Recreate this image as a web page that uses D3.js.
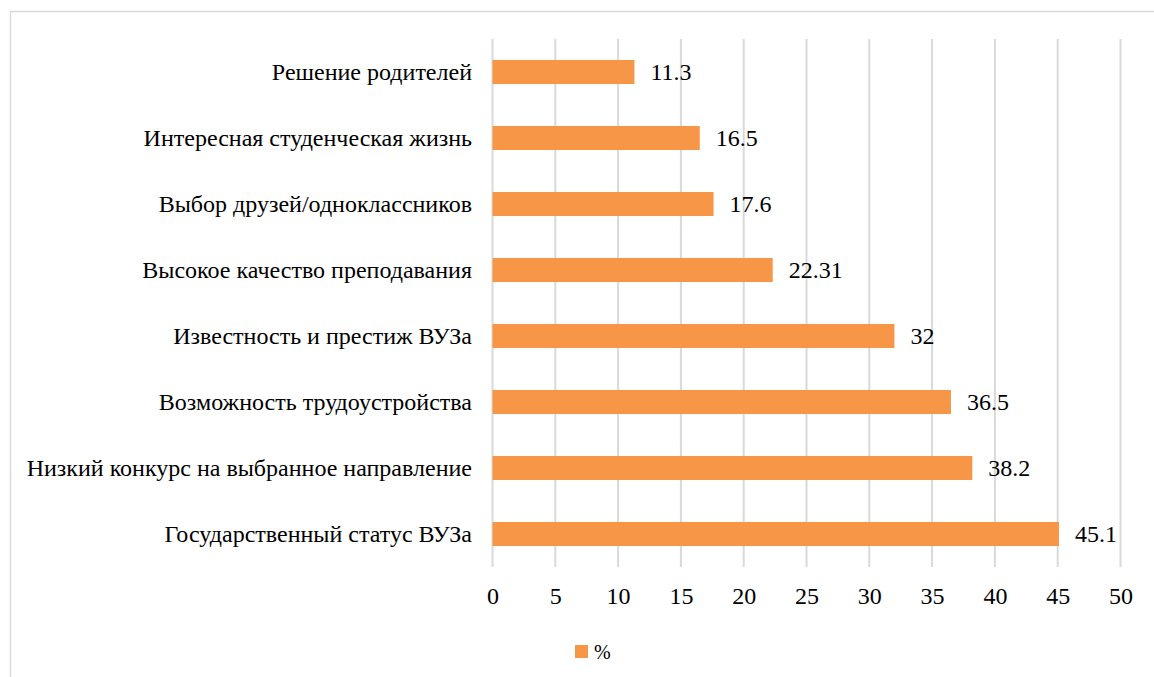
<!DOCTYPE html>
<html>
<head>
<meta charset="utf-8">
<script src="https://cdn.jsdelivr.net/npm/d3@7"></script>
<style>
  body { margin: 0; background: #fff; }
</style>
</head>
<body>
<svg width="1154" height="677"></svg>
<script>
const categories = [
  "Решение родителей",
  "Интересная студенческая жизнь",
  "Выбор друзей/одноклассников",
  "Высокое качество преподавания",
  "Известность и престиж ВУЗа",
  "Возможность трудоустройства",
  "Низкий конкурс на выбранное направление",
  "Государственный статус ВУЗа"
];
const values = [11.3, 16.5, 17.6, 22.31, 32, 36.5, 38.2, 45.1];
const valueLabels = ["11.3", "16.5", "17.6", "22.31", "32", "36.5", "38.2", "45.1"];
const xTicks = [0, 5, 10, 15, 20, 25, 30, 35, 40, 45, 50];
const seriesName = "%";

const svg = d3.select("svg");
const color = "#F79646";
const gridColor = "#d9d9d9";
const font = "Liberation Serif";
const fontSize = 24;

// outer frame
svg.append("rect")
  .attr("x", 10.5).attr("y", 11.5)
  .attr("width", 1160).attr("height", 700)
  .attr("fill", "none")
  .attr("stroke", gridColor)
  .attr("stroke-width", 1.5);

const x = d3.scaleLinear().domain([0, 50]).range([492.5, 1120.5]);
const y = d3.scaleBand().domain(categories)
  .range([39, 567])
  .paddingInner(0.636)
  .paddingOuter(0.318);

// gridlines
svg.append("g")
  .selectAll("line")
  .data(xTicks)
  .join("line")
    .attr("x1", d => x(d)).attr("x2", d => x(d))
    .attr("y1", 39).attr("y2", 567)
    .attr("stroke", gridColor)
    .attr("stroke-width", 2);

// bars
svg.append("g")
  .selectAll("rect")
  .data(values)
  .join("rect")
    .attr("x", x(0))
    .attr("y", (d, i) => y(categories[i]))
    .attr("width", d => x(d) - x(0))
    .attr("height", y.bandwidth())
    .attr("fill", color);

// value labels
svg.selectAll("text.value")
  .data(values)
  .join("text")
    .attr("class", "value")
    .attr("x", d => x(d) + 16)
    .attr("y", (d, i) => y(categories[i]) + y.bandwidth() / 2)
    .attr("dy", "0.35em")
    .attr("font-family", font)
    .style("font-family", font, "important")
    .style("font-size", fontSize + "px")
    .text((d, i) => valueLabels[i]);

// y axis labels
const yAxis = svg.append("g")
  .attr("transform", "translate(" + (x(0) - 0.5) + ",0)")
  .call(d3.axisLeft(y).tickSize(0).tickPadding(20))
  .attr("font-family", font);
yAxis.select(".domain").remove();
yAxis.selectAll("text")
  .style("font-family", font, "important")
  .style("font-size", fontSize + "px")
  .attr("fill", "#000");

// x axis labels
const xAxis = svg.append("g")
  .attr("transform", "translate(0,567)")
  .call(d3.axisBottom(x).tickValues(xTicks).tickSize(0).tickPadding(20))
  .attr("font-family", font);
xAxis.select(".domain").remove();
xAxis.selectAll("text")
  .style("font-family", font, "important")
  .style("font-size", fontSize + "px")
  .attr("fill", "#000");

// legend
const legend = svg.append("g").attr("transform", "translate(575,645)");
legend.append("rect")
  .attr("width", 13).attr("height", 13)
  .attr("fill", color);
legend.append("text")
  .attr("x", 19).attr("y", 6.5)
  .attr("dy", "0.35em")
  .style("font-family", font, "important")
  .style("font-size", "20px")
  .text(seriesName);
</script>
</body>
</html>
